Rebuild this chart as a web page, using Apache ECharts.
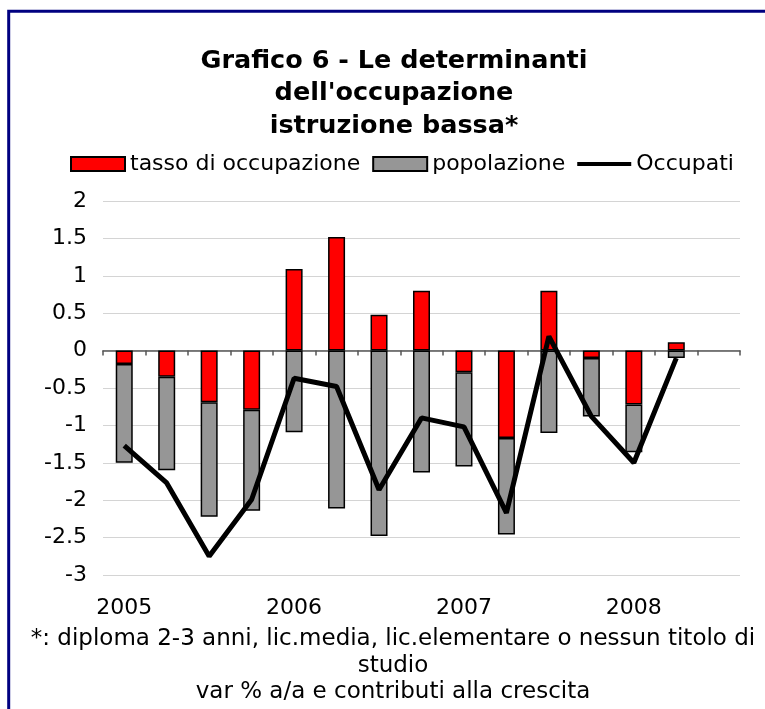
<!DOCTYPE html>
<html>
<head>
<meta charset="utf-8">
<script src="https://cdn.jsdelivr.net/npm/echarts@6/dist/echarts.min.js"></script>
<style>
html,body{margin:0;padding:0;background:#fff;}
#c{width:765px;height:709px;}
</style>
</head>
<body>
<div id="c"></div>
<script>
// Categories: quarters 2005 T1 .. 2008 T3 (last slot empty)
var quarters = ['2005 T1','2005 T2','2005 T3','2005 T4',
                '2006 T1','2006 T2','2006 T3','2006 T4',
                '2007 T1','2007 T2','2007 T3','2007 T4',
                '2008 T1','2008 T2','2008 T3'];
var tassoOccupazione = [-0.18,-0.35,-0.69,-0.79, 1.09, 1.52, 0.48, 0.80,-0.29,-1.17, 0.80,-0.10,-0.72, 0.11, null];
var popolazione      = [-1.32,-1.25,-1.53,-1.35,-1.09,-2.11,-2.48,-1.63,-1.26,-1.29,-1.10,-0.78,-0.64,-0.10, null];
var occupati         = [-1.27,-1.77,-2.75,-1.99,-0.37,-0.48,-1.86,-0.90,-1.02,-2.17, 0.19,-0.88,-1.50,-0.10, null];
var yTicks = {min:-3, max:2, interval:0.5};

var FONT = 'DejaVu Sans, Verdana, sans-serif';
var lineIcon = 'path://M0,0 L0,0 M0,5 L54,5 L54,9 L0,9 Z M54,14 L54,14';
var chart = echarts.init(document.getElementById('c'), null, {renderer:'canvas'});
chart.setOption({
  backgroundColor:'#ffffff',
  animation:false,
  title:[{
    text:"Grafico 6 - Le determinanti\ndell'occupazione\nistruzione bassa*",
    left:389, top:40, textAlign:'center',
    textStyle:{fontFamily:FONT, fontWeight:'bold', fontSize:25.5, lineHeight:32.5, color:'#000'}
  },{
    text:"*: diploma 2-3 anni, lic.media, lic.elementare o nessun titolo di\nstudio\nvar % a/a e contributi alla crescita",
    left:388, top:621, textAlign:'center',
    textStyle:{fontFamily:FONT, fontWeight:'normal', fontSize:23, lineHeight:26.5, color:'#000'}
  }],
  legend:{
    left:65, top:148, itemWidth:54, itemHeight:14, itemGap:12,
    textStyle:{fontFamily:FONT, fontSize:22, color:'#000'},
    data:[
      {name:'tasso di occupazione', icon:'rect'},
      {name:'popolazione', icon:'rect'},
      {name:'Occupati', icon:lineIcon, itemStyle:{color:'#000', borderWidth:0}}
    ]
  },
  grid:{left:103, top:201, width:637, height:374, containLabel:false},
  xAxis:[{
    type:'category', data:quarters, boundaryGap:true,
    axisLine:{show:true, onZero:true, lineStyle:{color:'#555', width:1.5}},
    axisTick:{show:true, interval:0, length:5, lineStyle:{color:'#555', width:1.5}},
    axisLabel:{show:false},
    splitLine:{show:false}
  },{
    type:'category', data:quarters, position:'bottom', boundaryGap:true,
    axisLine:{show:false, onZero:false},
    axisTick:{show:false},
    axisLabel:{show:true, interval:0, margin:22, fontFamily:FONT, fontSize:22, color:'#000',
      formatter:function(v){ return /T1$/.test(v) ? v.slice(0,4) : ''; }},
    splitLine:{show:false}
  }],
  yAxis:{
    type:'value', min:yTicks.min, max:yTicks.max, interval:yTicks.interval,
    axisLine:{show:false}, axisTick:{show:false},
    axisLabel:{margin:16, fontFamily:FONT, fontSize:22, color:'#000',
      formatter:function(v){ return String(Math.round(v*10)/10); }},
    splitLine:{show:true, lineStyle:{color:'#d4d4d4', width:1.2}}
  },
  series:[{
    name:'tasso di occupazione', type:'bar', stack:'a', xAxisIndex:0, data:tassoOccupazione,
    barWidth:17, itemStyle:{color:'#ff0000', borderColor:'#000', borderWidth:1.5}
  },{
    name:'popolazione', type:'bar', stack:'a', xAxisIndex:0, data:popolazione,
    barWidth:17, itemStyle:{color:'#969696', borderColor:'#000', borderWidth:1.5}
  },{
    name:'Occupati', type:'line', xAxisIndex:0, data:occupati, symbol:'none', z:5,
    lineStyle:{color:'#000', width:5}, itemStyle:{color:'#000'}
  }],
  graphic:[{
    type:'polyline', silent:true, z:100,
    shape:{points:[[8.7,709],[8.7,11.3],[765,11.3]]},
    style:{stroke:'#000080', lineWidth:3, fill:null}
  }]
});
</script>
</body>
</html>
